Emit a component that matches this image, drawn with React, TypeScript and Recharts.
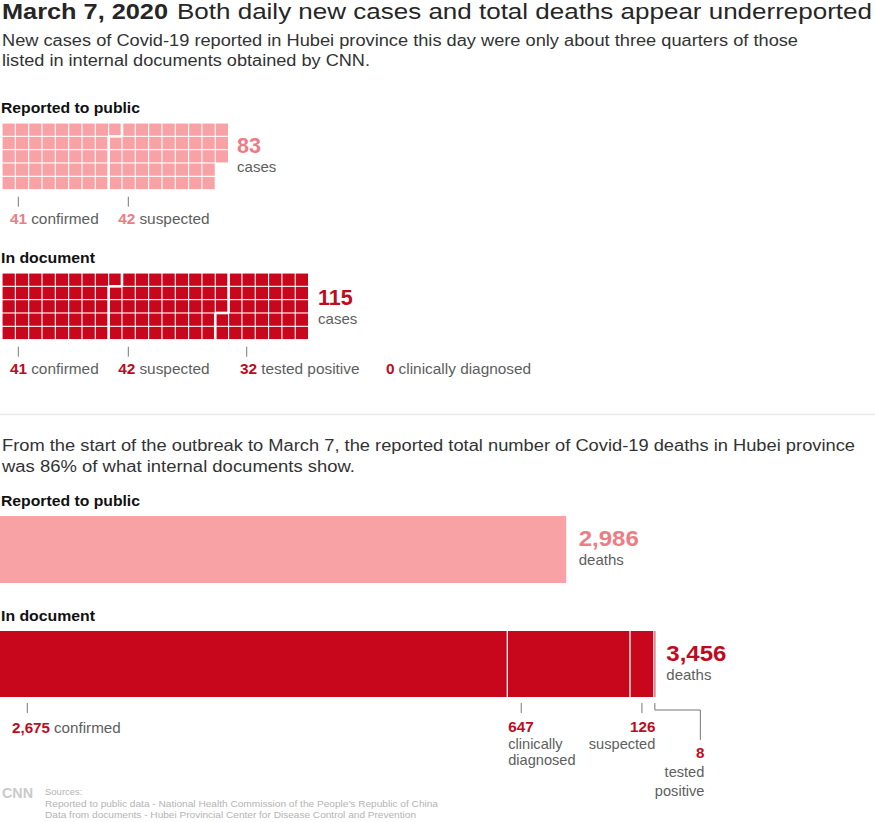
import React from 'react';
import { ScatterChart, Scatter, XAxis, YAxis, BarChart, Bar } from 'recharts';

// new cases on March 7
const caseGroups = ['confirmed', 'suspected', 'tested positive', 'clinically diagnosed'];
const publicCases = [41, 42];
const documentCases = [41, 42, 32, 0];

// cumulative deaths to March 7
const deathGroups = ['confirmed', 'clinically diagnosed', 'suspected', 'tested positive'];
const publicDeaths = [2986];
const documentDeaths = [2675, 647, 126, 8];
const deathAxisMax = 4000;

const PINK = '#f8a2a6';
const PINK_TEXT = '#ee7c84';
const RED = '#c8061c';
const RED_TEXT = '#c00a20';
const GRAY = '#5e5e5e';
const DARK = '#262626';
const LIGHT = '#b4b4b4';
const FONT = '"Liberation Sans", Arial, sans-serif';

const ROWS = 5;
const CELL = 13.33;
const WAFFLE_LEFT = 1.5;
const TICK_X = [18.3, 128.3, 246.7, null];
const LABEL_X = [10, 118.3, 240, 386];

type Cell = { x: number; y: number; l: boolean; r: boolean; t: boolean; b: boolean };

function buildCells(counts: number[]): Cell[] {
  const groupOf: number[] = [];
  counts.forEach((c, g) => {
    for (let i = 0; i < c; i++) groupOf.push(g);
  });
  return groupOf.map((g, i) => {
    const col = Math.floor(i / ROWS);
    const row = i % ROWS;
    const diff = (j: number) => j >= 0 && j < groupOf.length && groupOf[j] !== g;
    return {
      x: col + 0.5,
      y: row + 0.5,
      l: diff(i - ROWS),
      r: diff(i + ROWS),
      t: row > 0 && diff(i - 1),
      b: row < ROWS - 1 && diff(i + 1),
    };
  });
}

const total = (arr: number[]) => arr.reduce((a, b) => a + b, 0);
const waffleCols = (counts: number[]) => Math.ceil(total(counts) / ROWS);

const Waffle = ({ counts, color, top }: { counts: number[]; color: string; top: number }) => {
  const cells = buildCells(counts);
  const cols = waffleCols(counts);
  const gap = 0.55;
  const wide = 1.3;
  return (
    <div style={{ position: 'absolute', left: WAFFLE_LEFT, top }}>
      <ScatterChart width={cols * CELL} height={ROWS * CELL} margin={{ top: 0, right: 0, bottom: 0, left: 0 }}>
        <XAxis type="number" dataKey="x" domain={[0, cols]} hide />
        <YAxis type="number" dataKey="y" domain={[0, ROWS]} reversed hide />
        <Scatter
          data={cells}
          isAnimationActive={false}
          shape={(p: any) => {
            const c = p.payload as Cell;
            const x0 = p.cx - CELL / 2 + (c.l ? wide : gap);
            const x1 = p.cx + CELL / 2 - (c.r ? wide : gap);
            const y0 = p.cy - CELL / 2 + (c.t ? wide : gap);
            const y1 = p.cy + CELL / 2 - (c.b ? wide : gap);
            return <rect x={x0} y={y0} width={x1 - x0} height={y1 - y0} fill={color} />;
          }}
        />
      </ScatterChart>
    </div>
  );
};

const Segment = (p: any) => (
  <g>
    <rect x={p.x} y={p.y} width={p.width} height={p.height} fill={p.fill} />
    {p.sep && <rect x={p.x - 0.6} y={p.y} width={1.3} height={p.height} fill="#fff" />}
  </g>
);

const DeathBar = ({ values, keys, color, top, height }: { values: number[]; keys: string[]; color: string; top: number; height: number }) => {
  const row: Record<string, any> = { name: 'deaths' };
  keys.forEach((k, i) => (row[k] = values[i]));
  return (
    <div style={{ position: 'absolute', left: 0, top }}>
      <BarChart width={758.5} height={height} data={[row]} layout="vertical" barCategoryGap={0} margin={{ top: 0, right: 0, bottom: 0, left: 0 }}>
        <XAxis type="number" domain={[0, deathAxisMax]} hide />
        <YAxis type="category" dataKey="name" hide />
        {keys.map((k, i) => (
          <Bar key={k} dataKey={k} stackId="d" fill={color} isAnimationActive={false} shape={(p: any) => <Segment {...p} sep={i > 0} />} />
        ))}
      </BarChart>
    </div>
  );
};

const CaseLabels = ({ counts, numColor, tickTop }: { counts: number[]; numColor: string; tickTop: number }) => (
  <g>
    {counts.map((c, i) => (
      <g key={caseGroups[i]}>
        {TICK_X[i] != null && c > 0 && (
          <line x1={TICK_X[i]!} x2={TICK_X[i]!} y1={tickTop} y2={tickTop + 10} stroke="#777" strokeWidth={1} />
        )}
        <text x={LABEL_X[i]} y={tickTop + 27} fontSize={15.4}>
          <tspan fontWeight={700} fill={numColor}>{c}</tspan>
          <tspan fill={GRAY} dx={4}>{caseGroups[i]}</tspan>
        </text>
      </g>
    ))}
  </g>
);

export default function App() {
  const pubEnd = WAFFLE_LEFT + waffleCols(publicCases) * CELL + 9;
  const docEnd = WAFFLE_LEFT + waffleCols(documentCases) * CELL + 10;
  const px = 758.5 / deathAxisMax;
  const docTotal = total(documentDeaths);
  const cum = documentDeaths.map((_, i) => total(documentDeaths.slice(0, i)));
  return (
    <div style={{ position: 'absolute', left: 0, top: 0, width: 875, height: 822, background: '#fff', fontFamily: FONT }}>
      <Waffle counts={publicCases} color={PINK} top={123} />
      <Waffle counts={documentCases} color={RED} top={273.3} />
      <DeathBar values={publicDeaths} keys={['reported']} color={PINK} top={516} height={67} />
      <DeathBar values={documentDeaths} keys={deathGroups} color={RED} top={631} height={66} />

      <svg width={875} height={822} style={{ position: 'absolute', left: 0, top: 0, pointerEvents: 'none' }} fontFamily={FONT}>
        <text x={2} y={18.5} fontSize={21.5} fontWeight={700} fill={DARK} textLength={166} lengthAdjust="spacingAndGlyphs">March 7, 2020</text>
        <text x={177} y={18.5} fontSize={21.5} fill={DARK} textLength={695} lengthAdjust="spacingAndGlyphs">Both daily new cases and total deaths appear underreported</text>
        <text x={2} y={45.8} fontSize={16} fill="#333" textLength={796} lengthAdjust="spacingAndGlyphs">New cases of Covid-19 reported in Hubei province this day were only about three quarters of those</text>
        <text x={2} y={66} fontSize={16} fill="#333" textLength={368} lengthAdjust="spacingAndGlyphs">listed in internal documents obtained by CNN.</text>

        <text x={1} y={113.3} fontSize={15.5} fontWeight={700} fill="#111" textLength={139} lengthAdjust="spacingAndGlyphs">Reported to public</text>
        <text x={pubEnd} y={153} fontSize={21.5} fontWeight={700} fill={PINK_TEXT}>{total(publicCases)}</text>
        <text x={pubEnd} y={171.5} fontSize={15} fill={GRAY}>cases</text>
        <CaseLabels counts={publicCases} numColor={PINK_TEXT} tickTop={196.7} />

        <text x={1} y={263.3} fontSize={15.5} fontWeight={700} fill="#111" textLength={94} lengthAdjust="spacingAndGlyphs">In document</text>
        <text x={docEnd} y={305.3} fontSize={21.5} fontWeight={700} fill={RED_TEXT}>{total(documentCases)}</text>
        <text x={docEnd} y={323.8} fontSize={15} fill={GRAY}>cases</text>
        <CaseLabels counts={documentCases} numColor={RED_TEXT} tickTop={346.7} />

        <line x1={0} x2={875} y1={414.5} y2={414.5} stroke="#e9e9e9" strokeWidth={1.5} />

        <text x={2} y={450.7} fontSize={16} fill="#333" textLength={853} lengthAdjust="spacingAndGlyphs">From the start of the outbreak to March 7, the reported total number of Covid-19 deaths in Hubei province</text>
        <text x={2} y={471.7} fontSize={16} fill="#333" textLength={353} lengthAdjust="spacingAndGlyphs">was 86% of what internal documents show.</text>

        <text x={1} y={505.7} fontSize={15.5} fontWeight={700} fill="#111" textLength={139} lengthAdjust="spacingAndGlyphs">Reported to public</text>
        <text x={publicDeaths[0] * px + 12.5} y={545.8} fontSize={21.5} fontWeight={700} fill={PINK_TEXT} textLength={60} lengthAdjust="spacingAndGlyphs">{publicDeaths[0].toLocaleString('en-US')}</text>
        <text x={publicDeaths[0] * px + 12.5} y={564.5} fontSize={15} fill={GRAY}>deaths</text>

        <text x={1} y={620.7} fontSize={15.5} fontWeight={700} fill="#111" textLength={94} lengthAdjust="spacingAndGlyphs">In document</text>
        <text x={docTotal * px + 11} y={661} fontSize={21.5} fontWeight={700} fill={RED_TEXT} textLength={60} lengthAdjust="spacingAndGlyphs">{docTotal.toLocaleString('en-US')}</text>
        <text x={docTotal * px + 11} y={680} fontSize={15} fill={GRAY}>deaths</text>

        {/* labels under the document deaths bar */}
        <line x1={27.3} x2={27.3} y1={703} y2={713} stroke="#777" />
        <text x={12} y={732.5} fontSize={15.2}>
          <tspan fontWeight={700} fill={RED_TEXT}>{documentDeaths[0].toLocaleString('en-US')}</tspan>
          <tspan fill={GRAY} dx={4}>{deathGroups[0]}</tspan>
        </text>

        <line x1={cum[1] * px + 14} x2={cum[1] * px + 14} y1={703} y2={713} stroke="#777" />
        <text x={cum[1] * px + 1} y={731.7} fontSize={15.2} fontWeight={700} fill={RED_TEXT}>{documentDeaths[1]}</text>
        <text x={cum[1] * px + 1} y={749.3} fontSize={14.6} fill={GRAY}>clinically</text>
        <text x={cum[1] * px + 1} y={765} fontSize={14.6} fill={GRAY}>diagnosed</text>

        <line x1={cum[2] * px + 12} x2={cum[2] * px + 12} y1={703} y2={713} stroke="#777" />
        <text x={docTotal * px} y={731.7} fontSize={15.2} fontWeight={700} fill={RED_TEXT} textAnchor="end">{documentDeaths[2]}</text>
        <text x={docTotal * px} y={749.3} fontSize={14.6} fill={GRAY} textAnchor="end">{deathGroups[2]}</text>

        <polyline points={`${docTotal * px - 0.5},703 ${docTotal * px - 0.5},710 ${docTotal * px + 45},710 ${docTotal * px + 45},740`} fill="none" stroke="#777" />
        <text x={docTotal * px + 49} y={758.3} fontSize={15.2} fontWeight={700} fill={RED_TEXT} textAnchor="end">{documentDeaths[3]}</text>
        <text x={docTotal * px + 49} y={777.3} fontSize={14.6} fill={GRAY} textAnchor="end">tested</text>
        <text x={docTotal * px + 49} y={795.7} fontSize={14.6} fill={GRAY} textAnchor="end">positive</text>

        {/* footer */}
        <text x={2} y={798} fontSize={14} fontWeight={700} fill="#cacaca" textLength={31} lengthAdjust="spacingAndGlyphs">CNN</text>
        <text x={45} y={795} fontSize={9.5} fill={LIGHT}>Sources:</text>
        <text x={45} y={807.3} fontSize={9.5} fill={LIGHT} textLength={393} lengthAdjust="spacingAndGlyphs">Reported to public data - National Health Commission of the People's Republic of China</text>
        <text x={45} y={818.3} fontSize={9.5} fill={LIGHT} textLength={371} lengthAdjust="spacingAndGlyphs">Data from documents - Hubei Provincial Center for Disease Control and Prevention</text>
      </svg>
    </div>
  );
}
